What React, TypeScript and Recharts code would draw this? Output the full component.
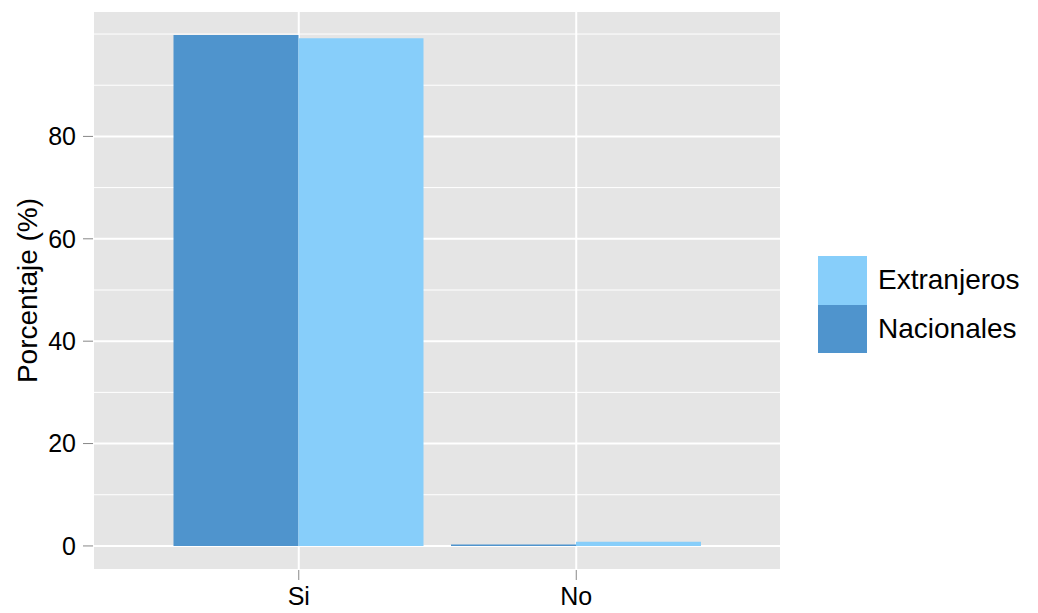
// Porcentaje de respuestas Si/No, nacionales vs extranjeros (estilo ggplot: panel gris, grilla blanca)
import {
  BarChart,
  Bar,
  XAxis,
  YAxis,
  CartesianGrid,
  Legend,
  Label,
} from "recharts";

const FONT = "'Liberation Sans', Arial, Helvetica, sans-serif";
const DARK = "#4F94CD";
const LIGHT = "#87CEFA";

const categories = ["Si", "No"];
const nacionales = [99.8, 0.3];
const extranjeros = [99.2, 0.8];
const yTicks = [0, 20, 40, 60, 80];
const minorTicks = [10, 30, 50, 70, 90, 100];
const legendItems = [
  { name: "Extranjeros", color: LIGHT },
  { name: "Nacionales", color: DARK },
];

const data = categories.map((c, i) => ({
  cat: c,
  Nacionales: nacionales[i],
  Extranjeros: extranjeros[i],
}));

const tickStyle = { fill: "#000", fontSize: 25, fontFamily: FONT };

function LegendBox() {
  return (
    <div style={{ width: 257, paddingLeft: 37, boxSizing: "border-box", fontFamily: FONT }}>
      {legendItems.map((it) => (
        <div key={it.name} style={{ display: "flex", alignItems: "center", height: 48.5 }}>
          <div style={{ width: 49, height: 48.5, background: it.color }} />
          <span style={{ marginLeft: 11, fontSize: 28, color: "#000" }}>{it.name}</span>
        </div>
      ))}
    </div>
  );
}

const yTitle = () => (
  <text
    x={27}
    y={290.5}
    transform="rotate(-90 27 290.5)"
    textAnchor="middle"
    dominantBaseline="central"
    fontSize={28}
    fontFamily={FONT}
    fill="#000"
  >
    Porcentaje (%)
  </text>
);

export default function App() {
  return (
    <div style={{ position: "absolute", left: 0, top: 0, background: "#fff" }}>
      <BarChart
        width={1038}
        height={613}
        data={data}
        margin={{ top: 11, right: 0, bottom: 0, left: 0 }}
        barGap={0}
        barCategoryGap={13.5}
      >
        <CartesianGrid fill="#E5E5E5" stroke="#fff" strokeWidth={2} />
        <CartesianGrid
          fill="none"
          stroke="#fff"
          strokeWidth={1}
          vertical={false}
          horizontalValues={minorTicks}
        />
        <XAxis
          dataKey="cat"
          height={43}
          padding={{ left: 67, right: 66 }}
          tick={tickStyle}
          tickSize={10}
          tickMargin={7}
          tickLine={{ stroke: "#888" }}
          axisLine={false}
        />
        <YAxis
          type="number"
          width={93}
          domain={[-4.7, 104.5]}
          ticks={yTicks}
          allowDataOverflow
          tick={tickStyle}
          tickSize={10}
          tickMargin={7}
          tickLine={{ stroke: "#888" }}
          axisLine={false}
        >
          <Label content={yTitle} />
        </YAxis>
        <Legend
          layout="vertical"
          align="right"
          verticalAlign="middle"
          wrapperStyle={{ top: 256, right: 0 }}
          content={() => <LegendBox />}
        />
        <Bar dataKey="Nacionales" fill={DARK} isAnimationActive={false} />
        <Bar dataKey="Extranjeros" fill={LIGHT} isAnimationActive={false} />
      </BarChart>
    </div>
  );
}
